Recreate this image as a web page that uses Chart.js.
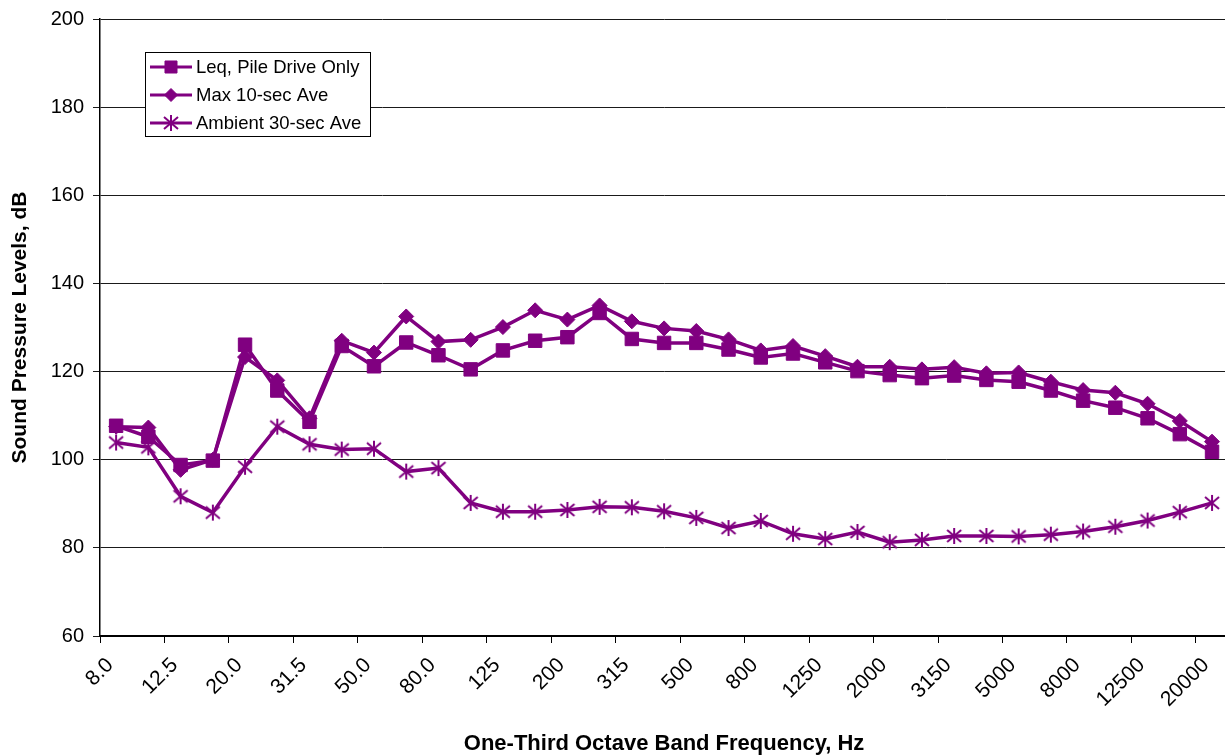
<!DOCTYPE html>
<html>
<head>
<meta charset="utf-8">
<script src="https://cdn.jsdelivr.net/npm/chart.js@4.4.1/dist/chart.umd.min.js"></script>
<style>
  html, body { margin: 0; padding: 0; background: #fff; overflow: hidden; }
  #wrap { width: 1225px; height: 755px; overflow: hidden; position: relative; }
  #chart { position: absolute; left: 0; top: 0; }
</style>
</head>
<body>
<div id="wrap">
  <canvas id="chart" width="1240" height="755"></canvas>
</div>
<script>
// one-third octave band centre frequencies (Hz)
const bands = ['8.0', '10.0', '12.5', '16.0', '20.0', '25.0', '31.5', '40.0', '50.0', '63.0',
  '80.0', '100', '125', '160', '200', '250', '315', '400', '500', '630', '800', '1000',
  '1250', '1600', '2000', '2500', '3150', '4000', '5000', '6300', '8000', '10000',
  '12500', '16000', '20000']

// sound pressure levels, dB
const leqPileDrive = [107.7, 105.2, 98.8, 99.8, 126.1, 115.7, 108.6, 125.8, 121.2, 126.6,
  123.7, 120.5, 124.8, 127.0, 127.8, 133.3, 127.4, 126.5, 126.5, 125.0, 123.2, 124.1,
  122.1, 120.1, 119.2, 118.5, 119.1, 118.1, 117.7, 115.7, 113.4, 111.8, 109.4, 105.8, 101.8]

const max10sec = [107.5, 107.3, 97.7, 100.0, 123.3, 118.0, 109.4, 127.0, 124.3, 132.5,
  126.8, 127.2, 130.1, 133.9, 131.8, 135.0, 131.4, 129.8, 129.2, 127.3, 124.8, 125.8,
  123.5, 121.1, 121.1, 120.5, 121.0, 119.6, 119.8, 117.7, 115.8, 115.2, 112.7, 108.8, 104.1]

const ambient30sec = [103.9, 102.8, 91.7, 88.0, 98.4, 107.5, 103.5, 102.3, 102.5, 97.3,
  98.1, 90.2, 88.2, 88.2, 88.6, 89.3, 89.2, 88.3, 86.8, 84.5, 86.1, 83.2,
  82.0, 83.6, 81.3, 81.8, 82.7, 82.7, 82.6, 83.0, 83.7, 84.8, 86.2, 88.1, 90.2]

const yTicks = [60, 80, 100, 120, 140, 160, 180, 200]

const PURPLE = '#800080'

// asterisk marker: vertical stroke plus an X
function makeStar() {
  const c = document.createElement('canvas')
  c.width = 18
  c.height = 18
  const g = c.getContext('2d')
  g.strokeStyle = PURPLE
  g.lineWidth = 2
  g.beginPath()
  g.moveTo(9, 1); g.lineTo(9, 17)
  g.moveTo(2, 3); g.lineTo(16, 15)
  g.moveTo(16, 3); g.lineTo(2, 15)
  g.stroke()
  return c
}
const star = makeStar()

const series = [
  { label: 'Leq, Pile Drive Only', data: leqPileDrive, pointStyle: 'rect', pointRadius: 9.5 },
  { label: 'Max 10-sec Ave', data: max10sec, pointStyle: 'rectRot', pointRadius: 7.5 },
  { label: 'Ambient 30-sec Ave', data: ambient30sec, pointStyle: star, pointRadius: 9 },
]

// legend box drawn inside the plot area
const boxLegend = {
  id: 'boxLegend',
  afterDraw(chart) {
    const ctx = chart.ctx
    const x = 145, y = 52, w = 225, h = 84
    ctx.save()
    ctx.fillStyle = '#fff'
    ctx.fillRect(x, y, w, h)
    ctx.strokeStyle = '#000'
    ctx.lineWidth = 1
    ctx.strokeRect(x + 0.5, y + 0.5, w, h)
    ctx.font = '18.5px Arial, "Liberation Sans", sans-serif'
    ctx.textBaseline = 'middle'
    series.forEach((s, i) => {
      const ry = 67 + i * 28
      ctx.strokeStyle = PURPLE
      ctx.lineWidth = 3
      ctx.beginPath()
      ctx.moveTo(150, ry)
      ctx.lineTo(192, ry)
      ctx.stroke()
      if (typeof s.pointStyle === 'string') {
        ctx.fillStyle = PURPLE
        ctx.strokeStyle = PURPLE
        ctx.lineWidth = 1
        Chart.helpers.drawPoint(ctx, { pointStyle: s.pointStyle, radius: s.pointRadius - 1, borderWidth: 1 }, 171, ry)
      } else {
        ctx.drawImage(s.pointStyle, 171 - 9, ry - 9)
      }
      ctx.fillStyle = '#000'
      ctx.fillText(s.label, 196, ry + 1)
    })
    ctx.restore()
  }
}

new Chart(document.getElementById('chart'), {
  type: 'line',
  data: {
    labels: bands,
    datasets: series.map(s => ({
      label: s.label,
      data: s.data,
      borderColor: PURPLE,
      backgroundColor: PURPLE,
      borderWidth: 3.5,
      pointStyle: s.pointStyle,
      pointRadius: s.pointRadius,
      pointBorderWidth: 1,
      pointBorderColor: PURPLE,
      pointBackgroundColor: PURPLE,
      tension: 0,
      fill: false,
    })),
  },
  options: {
    responsive: false,
    animation: false,
    devicePixelRatio: 1,
    layout: { padding: { top: 18, right: 8, left: 0, bottom: 0 } },
    plugins: {
      legend: { display: false },
      tooltip: { enabled: false },
    },
    scales: {
      x: {
        offset: true,
        afterFit: s => { s.height = 119 },
        grid: {
          offset: true,
          drawOnChartArea: false,
          tickLength: 7,
          color: ctx => (ctx.index % 2 === 0 ? '#000' : 'rgba(0,0,0,0)'),
        },
        border: { display: true, color: '#000', width: 2 },
        ticks: {
          autoSkip: false,
          maxRotation: 45,
          minRotation: 45,
          padding: 10,
          labelOffset: -6,
          color: '#000',
          font: { family: 'Arial, "Liberation Sans", sans-serif', size: 21 },
          callback: (v, i) => (i % 2 === 0 ? bands[i] : ''),
        },
        title: {
          display: true,
          text: 'One-Third Octave Band Frequency, Hz',
          color: '#000',
          padding: 0,
          font: { family: 'Arial, "Liberation Sans", sans-serif', size: 22, weight: 'bold', lineHeight: 1 },
        },
      },
      y: {
        min: 60,
        max: 200,
        afterFit: s => { s.width = 100 },
        afterBuildTicks: s => { s.ticks = yTicks.map(v => ({ value: v })) },
        grid: { color: '#1a1a1a', lineWidth: 1, tickLength: 7 },
        border: { display: true, color: '#000', width: 1.5 },
        ticks: {
          padding: 9,
          color: '#000',
          font: { family: 'Arial, "Liberation Sans", sans-serif', size: 20, lineHeight: 1 },
        },
        title: {
          display: true,
          text: 'Sound Pressure Levels, dB',
          color: '#000',
          padding: { top: 9.5, bottom: 0 },
          font: { family: 'Arial, "Liberation Sans", sans-serif', size: 21, weight: 'bold', lineHeight: 1 },
        },
      },
    },
  },
  plugins: [boxLegend],
})
</script>
</body>
</html>
